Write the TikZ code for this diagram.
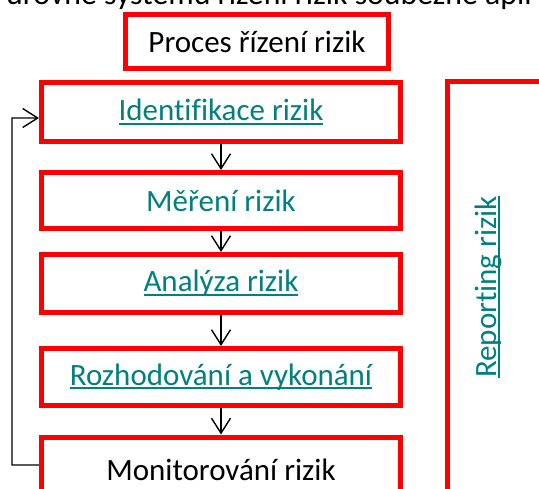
\documentclass[tikz,border=0pt]{standalone}
\usepackage{fontspec}
\setmainfont[Ligatures=NoCommon]{Carlito}
\usetikzlibrary{arrows.meta}
\definecolor{linkteal}{RGB}{0,128,128}
\newcommand\myul[1]{\setbox0\hbox{#1}\rlap{\rule[-4bp]{\wd0}{2bp}}\box0}
\tikzset{
  redbox/.style={draw=red, line width=5bp, fill=white, rectangle, inner sep=0pt,
     font=\fontsize{31bp}{37bp}\selectfont},
  linktext/.style={text=linkteal},
  conn/.style={line width=1.4bp, draw=black, -{Straight Barb[length=15bp,width=19bp,line width=1.4bp]}},
}
\begin{document}
\begin{tikzpicture}[x=1bp,y=-1bp]
\useasboundingbox (0,0) rectangle (539,489);
\clip (0,0) rectangle (539,489);
\fill[white] (0,0) rectangle (539,489);
% cut-off heading line
\node[anchor=base west, inner sep=0pt, font=\fontsize{31.8bp}{38bp}\selectfont] (head) at (6,5) {úrovně systému řízení rizik souběžně apli};
% boxes
\node[redbox, minimum width=263bp, minimum height=54bp] (proc) at (257,41.5) {Proces řízení rizik};
\node[redbox, minimum width=359bp, minimum height=59bp, linktext] (ident) at (221,112) {\myul{Identifikace rizik}};
\node[redbox, minimum width=359bp, minimum height=56bp, linktext] (mer) at (221,200.5) {Měření rizik};
\node[redbox, minimum width=359bp, minimum height=58bp, linktext] (anal) at (221,283.5) {\myul{Analýza rizik}};
\node[redbox, minimum width=359bp, minimum height=57bp, linktext] (roz) at (221,377) {\myul{Rozhodování a vykonání}};
\node[redbox, minimum width=359bp, minimum height=66bp] (mon) at (221,470) {Monitorování rizik};
% reporting box (extends past the picture)
\draw[red, line width=5bp] (447.5,620) -- (447.5,81.5) -- (620,81.5);
\node[rotate=90, inner sep=0pt, text=linkteal, font=\fontsize{31bp}{37bp}\selectfont] (rep) at (488,287) {\myul{Reporting rizik}};
% arrows
\draw[conn] (ident.south) -- (mer.north);
\draw[conn] (mer.south) -- (anal.north);
\draw[conn] (anal.south) -- (roz.north);
\draw[conn] (roz.south) -- (mon.north);
\coordinate (fbA) at (12,465);
\coordinate (fbB) at (12,118);
\draw[conn] ([yshift=5bp]mon.west) -- (fbA) -- (fbB) -- ([yshift=-6bp]ident.west);
\end{tikzpicture}
\end{document}
